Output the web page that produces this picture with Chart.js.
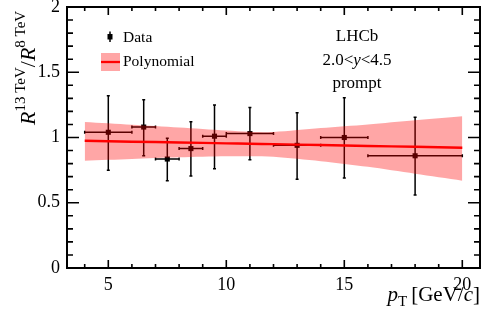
<!DOCTYPE html>
<html>
<head>
<meta charset="utf-8">
<script src="https://cdn.jsdelivr.net/npm/chart.js@4/dist/chart.umd.min.js"></script>
<style>
html,body{margin:0;padding:0;background:#fff;}
#c{display:block;}
</style>
</head>
<body>
<canvas id="c" width="484" height="322"></canvas>
<script>
// ---- data ----
const ptCenter = [5, 6.5, 7.5, 8.5, 9.5, 11, 13, 15, 18];
const ptLow    = [4, 6, 7, 8, 9, 10, 12, 14, 16];
const ptHigh   = [6, 7, 8, 9, 10, 12, 14, 16, 20];
const ratio    = [1.04, 1.08, 0.835, 0.915, 1.01, 1.03, 0.94, 1.0, 0.86];
const errUp    = [0.28, 0.21, 0.16, 0.205, 0.24, 0.20, 0.25, 0.305, 0.295];
const errDown  = [0.29, 0.22, 0.166, 0.21, 0.25, 0.20, 0.26, 0.31, 0.30];

const fitX     = [4, 6, 8, 10, 11, 12, 14, 16, 18, 20];
const fitValue = [0.975, 0.968, 0.962, 0.955, 0.952, 0.949, 0.942, 0.935, 0.929, 0.922];
const bandUp   = [1.119, 1.098, 1.077, 1.054, 1.045, 1.042, 1.072, 1.100, 1.132, 1.162];
const bandDown = [0.822, 0.835, 0.848, 0.856, 0.857, 0.852, 0.818, 0.775, 0.722, 0.669];

const xMajorTicks = [5, 10, 15, 20];
const xMinorTicks = [4, 6, 7, 8, 9, 11, 12, 13, 14, 16, 17, 18, 19, 20];
const yMajorTicks = [0, 0.5, 1, 1.5, 2];
const yMinorTicks = [0.1,0.2,0.3,0.4,0.6,0.7,0.8,0.9,1.1,1.2,1.3,1.4,1.6,1.7,1.8,1.9];

const SERIF = "'Liberation Serif', 'DejaVu Serif', serif";

function richWidth(ctx, segs){
  let w = 0;
  for (const s of segs){ ctx.font = s.font; w += ctx.measureText(s.t).width + (s.gap||0); }
  return w;
}
function drawRich(ctx, segs, x, y){
  let cx = x;
  for (const s of segs){
    ctx.font = s.font;
    ctx.fillText(s.t, cx, y + (s.dy||0));
    cx += ctx.measureText(s.t).width + (s.gap||0);
  }
}

const errorBarPlugin = {
  id: 'errorBars',
  beforeDatasetsDraw(chart){
    const ctx = chart.ctx, xs = chart.scales.x, ys = chart.scales.y;
    ctx.save();
    ctx.strokeStyle = '#000';
    ctx.lineWidth = 1.5;
    const cap = 1.5;
    for (let i = 0; i < ptCenter.length; i++){
      const px = xs.getPixelForValue(ptCenter[i]);
      const py = ys.getPixelForValue(ratio[i]);
      const x0 = xs.getPixelForValue(ptLow[i]);
      const x1 = xs.getPixelForValue(ptHigh[i]);
      const y0 = ys.getPixelForValue(ratio[i] - errDown[i]);
      const y1 = ys.getPixelForValue(ratio[i] + errUp[i]);
      ctx.beginPath();
      ctx.moveTo(x0, py); ctx.lineTo(x1, py);
      ctx.moveTo(px, y0); ctx.lineTo(px, y1);
      ctx.moveTo(x0, py - cap); ctx.lineTo(x0, py + cap);
      ctx.moveTo(x1, py - cap); ctx.lineTo(x1, py + cap);
      ctx.moveTo(px - cap, y0); ctx.lineTo(px + cap, y0);
      ctx.moveTo(px - cap, y1); ctx.lineTo(px + cap, y1);
      ctx.stroke();
    }
    ctx.restore();
  }
};

const framePlugin = {
  id: 'frame',
  afterDraw(chart){
    const ctx = chart.ctx, a = chart.chartArea, xs = chart.scales.x, ys = chart.scales.y;
    ctx.save();
    ctx.strokeStyle = '#000';
    ctx.lineWidth = 2;
    ctx.strokeRect(a.left, a.top, a.right - a.left, a.bottom - a.top);
    ctx.lineWidth = 1.6;
    ctx.beginPath();
    for (const v of xMajorTicks){
      const p = xs.getPixelForValue(v);
      ctx.moveTo(p, a.bottom); ctx.lineTo(p, a.bottom - 8);
      ctx.moveTo(p, a.top); ctx.lineTo(p, a.top + 8);
    }
    for (const v of xMinorTicks){
      const p = xs.getPixelForValue(v);
      ctx.moveTo(p, a.bottom); ctx.lineTo(p, a.bottom - 4);
      ctx.moveTo(p, a.top); ctx.lineTo(p, a.top + 4);
    }
    for (const v of yMajorTicks){
      const p = ys.getPixelForValue(v);
      ctx.moveTo(a.left, p); ctx.lineTo(a.left + 12, p);
      ctx.moveTo(a.right, p); ctx.lineTo(a.right - 12, p);
    }
    for (const v of yMinorTicks){
      const p = ys.getPixelForValue(v);
      ctx.moveTo(a.left, p); ctx.lineTo(a.left + 6, p);
      ctx.moveTo(a.right, p); ctx.lineTo(a.right - 6, p);
    }
    ctx.stroke();

    ctx.fillStyle = '#000';
    ctx.textBaseline = 'alphabetic';
    ctx.textAlign = 'left';

    // X title
    const xt = [
      {t:'p', font:'italic 21px ' + SERIF},
      {t:'T', font:'15px ' + SERIF, dy:5, gap:4},
      {t:'[GeV/', font:'21px ' + SERIF},
      {t:'c', font:'italic 21px ' + SERIF},
      {t:']', font:'21px ' + SERIF}
    ];
    const xw = richWidth(ctx, xt);
    drawRich(ctx, xt, a.right - xw, 301);

    // Y title (rotated)
    ctx.save();
    ctx.translate(35, 125);
    ctx.rotate(-Math.PI / 2);
    const yt = [
      {t:'R', font:'italic 22px ' + SERIF},
      {t:'13 TeV', font:'15px ' + SERIF, dy:-10},
      {t:'/', font:'22px ' + SERIF},
      {t:'R', font:'italic 22px ' + SERIF},
      {t:'8 TeV', font:'15px ' + SERIF, dy:-10}
    ];
    drawRich(ctx, yt, 0, 0);
    ctx.restore();

    // LHCb text block
    ctx.textAlign = 'left';
    const cxm = 357;
    const l1 = [{t:'LHCb', font:'17px ' + SERIF}];
    const l2 = [{t:'2.0<', font:'17px ' + SERIF},{t:'y', font:'italic 17px ' + SERIF},{t:'<4.5', font:'17px ' + SERIF}];
    const l3 = [{t:'prompt', font:'17px ' + SERIF}];
    drawRich(ctx, l1, cxm - richWidth(ctx, l1)/2, 41);
    drawRich(ctx, l2, cxm - richWidth(ctx, l2)/2, 65);
    drawRich(ctx, l3, cxm - richWidth(ctx, l3)/2, 88);

    // Legend
    ctx.lineWidth = 1.5;
    ctx.beginPath();
    ctx.moveTo(110, 31.5); ctx.lineTo(110, 42);
    ctx.stroke();
    ctx.fillRect(107.5, 34, 5, 5.5);
    ctx.font = '15.5px ' + SERIF;
    ctx.fillText('Data', 123, 42);
    ctx.fillStyle = 'rgba(255,0,0,0.35)';
    ctx.fillRect(101, 53, 19, 18);
    ctx.strokeStyle = '#ff0000';
    ctx.lineWidth = 2.3;
    ctx.beginPath(); ctx.moveTo(101, 62); ctx.lineTo(120, 62); ctx.stroke();
    ctx.fillStyle = '#000';
    ctx.fillText('Polynomial', 123, 66);
    ctx.restore();
  }
};

const pts = ptCenter.map((x, i) => ({x, y: ratio[i]}));
const fitPts = fitX.map((x, i) => ({x, y: fitValue[i]}));
const upPts = fitX.map((x, i) => ({x, y: bandUp[i]}));
const downPts = fitX.map((x, i) => ({x, y: bandDown[i]}));

new Chart(document.getElementById('c'), {
  type: 'scatter',
  data: {
    datasets: [
      { label: 'Data', type: 'scatter', data: pts, order: 4,
        pointStyle: 'rect', pointRadius: 3.6, backgroundColor: '#000', borderColor: '#000', borderWidth: 0 },
      { label: 'bandDown', type: 'line', data: downPts, order: 3,
        pointRadius: 0, borderWidth: 0, borderColor: 'rgba(0,0,0,0)', fill: false, tension: 0.3 },
      { label: 'bandUp', type: 'line', data: upPts, order: 2,
        pointRadius: 0, borderWidth: 0, borderColor: 'rgba(0,0,0,0)', backgroundColor: 'rgba(255,0,0,0.35)',
        fill: '-1', tension: 0.3 },
      { label: 'Polynomial', type: 'line', data: fitPts, order: 1,
        pointRadius: 0, borderWidth: 2.4, borderColor: '#ff0000', fill: false, tension: 0.3 }
    ]
  },
  options: {
    responsive: false,
    animation: false,
    devicePixelRatio: 1,
    layout: { padding: { top: 7, right: 2, left: 0, bottom: 0 } },
    plugins: { legend: { display: false }, tooltip: { enabled: false } },
    scales: {
      x: {
        type: 'linear', min: 3.25, max: 20.75,
        grid: { display: false, drawTicks: false },
        border: { display: false },
        afterBuildTicks: s => { s.ticks = xMajorTicks.map(v => ({value: v})); },
        afterFit: s => { s.height = 54; s.paddingLeft = 0; s.paddingRight = 0; },
        ticks: { autoSkip: false, maxRotation: 0, padding: 6, color: '#000',
                 font: { family: SERIF, size: 18 }, callback: v => String(v) }
      },
      y: {
        type: 'linear', min: 0, max: 2,
        grid: { display: false, drawTicks: false },
        border: { display: false },
        afterBuildTicks: s => { s.ticks = yMajorTicks.map(v => ({value: v})); },
        afterFit: s => { s.width = 67; s.paddingTop = 0; s.paddingBottom = 0; },
        ticks: { autoSkip: false, padding: 7, color: '#000',
                 font: { family: SERIF, size: 18 }, callback: v => String(v) }
      }
    }
  },
  plugins: [errorBarPlugin, framePlugin]
});
</script>
</body>
</html>
